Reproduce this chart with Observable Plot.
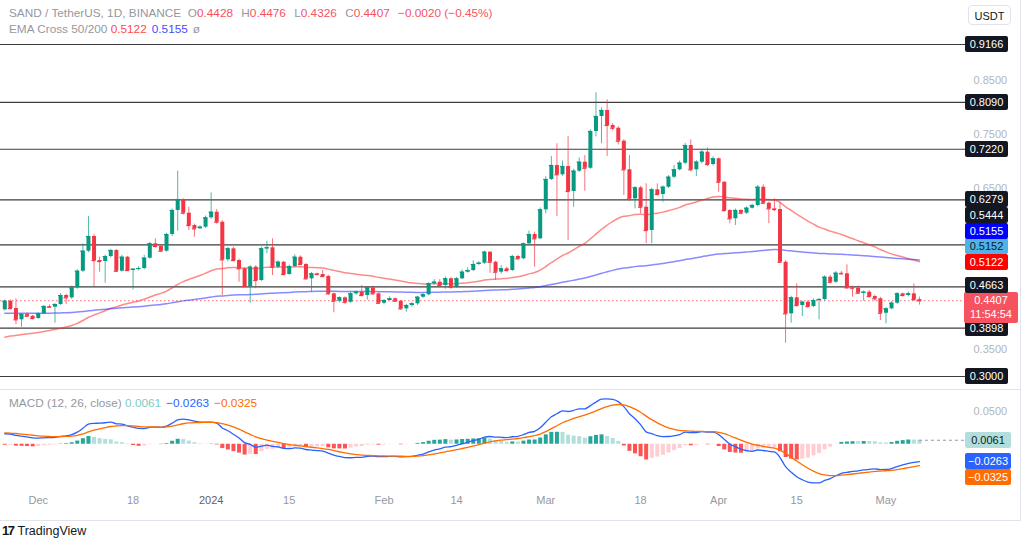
<!DOCTYPE html>
<html><head><meta charset="utf-8">
<script src="https://cdn.jsdelivr.net/npm/d3@7"></script>
<script src="https://cdn.jsdelivr.net/npm/@observablehq/plot@0.6"></script>
<style>
body{margin:0;background:#fff;font-family:"Liberation Sans",Arial,sans-serif;}
#wrap{position:relative;width:1024px;height:540px;overflow:hidden;background:#fff;}
.abs{position:absolute;}
.lg{position:absolute;left:9px;font-size:11.8px;color:#9598a1;white-space:nowrap;}
.lg span{margin-right:5px;}
.box{position:absolute;left:965px;width:43px;height:16px;line-height:16px;font-size:11px;text-align:center;color:#fff;background:#131722;border-radius:2px;}
.sep{position:absolute;background:#e0e3eb;}
</style></head>
<body><div id="wrap"></div>
<script>
// ---------- data ----------
const startDate = "2023-11-25";
const firstOpen = 0.4238;
const closes = [
0.4398,0.4262,0.4053,0.4151,0.4119,0.4077,0.4164,0.4300,0.4287,0.4337,
0.4504,0.4461,0.4647,0.4955,0.5327,0.5600,0.5154,0.5135,0.5228,0.5340,
0.4955,0.5215,0.4968,0.4992,0.5005,0.5197,0.5464,0.5414,0.5327,0.5637,
0.6083,0.6287,0.6033,0.5804,0.5743,0.5773,0.5947,0.6051,0.5865,0.5167,
0.5371,0.5154,0.5000,0.4671,0.5030,0.4783,0.5371,0.5390,0.5030,0.5122,
0.4894,0.5043,0.5215,0.5080,0.4814,0.4907,0.4894,0.4857,0.4535,0.4398,
0.4461,0.4379,0.4535,0.4565,0.4504,0.4647,0.4535,0.4361,0.4411,0.4443,
0.4398,0.4257,0.4318,0.4350,0.4472,0.4517,0.4721,0.4751,0.4690,0.4814,
0.4658,0.4814,0.4937,0.4968,0.5080,0.5104,0.5308,0.5122,0.4937,0.5000,
0.4968,0.5228,0.5186,0.5464,0.5637,0.5557,0.6096,0.6659,0.6919,0.6746,
0.6900,0.6436,0.6813,0.6980,0.6868,0.7550,0.7829,0.7940,0.7662,0.7611,
0.7370,0.6839,0.6300,0.6504,0.6144,0.5711,0.6467,0.6380,0.6515,0.6701,
0.6839,0.6961,0.7290,0.6839,0.6980,0.7166,0.6937,0.7043,0.6608,0.6083,
0.5929,0.6083,0.6033,0.6125,0.6176,0.6515,0.6218,0.6114,0.6101,0.5122,
0.4164,0.4461,0.4318,0.4379,0.4300,0.4411,0.4430,0.4844,0.4751,0.4918,
0.4907,0.4647,0.4640,0.4547,0.4565,0.4485,0.4443,0.4175,0.4257,0.4361,
0.4535,0.4504,0.4535,0.4428,0.4407];
const highs = [
0.4420,0.4420,0.4443,0.4170,0.4180,0.4135,0.4180,0.4320,0.4330,0.4350,
0.4540,0.4530,0.4680,0.4980,0.5464,0.5972,0.5640,0.5215,0.5250,0.5360,
0.5360,0.5250,0.5230,0.5000,0.5040,0.5250,0.5490,0.5557,0.5440,0.5660,
0.6110,0.6813,0.6300,0.6144,0.5830,0.5800,0.5980,0.6412,0.6100,0.5900,
0.5400,0.5400,0.5180,0.5020,0.5060,0.5060,0.5400,0.5513,0.5557,0.5150,
0.5140,0.5070,0.5260,0.5240,0.5100,0.4930,0.4920,0.4968,0.4880,0.4550,
0.4480,0.4480,0.4560,0.4590,0.4690,0.4670,0.4680,0.4550,0.4430,0.4480,
0.4460,0.4410,0.4340,0.4370,0.4490,0.4540,0.4740,0.4800,0.4800,0.4850,
0.4840,0.4840,0.4980,0.5020,0.5150,0.5130,0.5330,0.5320,0.5140,0.5060,
0.5030,0.5250,0.5250,0.5480,0.5700,0.5680,0.6130,0.6710,0.7086,0.7322,
0.7000,0.7457,0.6850,0.7060,0.7104,0.7580,0.8269,0.7990,0.8139,0.7700,
0.7640,0.7400,0.7104,0.6530,0.6530,0.6579,0.6500,0.6579,0.6540,0.6730,
0.6919,0.7000,0.7330,0.7396,0.7010,0.7200,0.7248,0.7080,0.7060,0.6620,
0.6100,0.6110,0.6100,0.6150,0.6200,0.6547,0.6560,0.6240,0.6300,0.6237,
0.5150,0.4490,0.4721,0.4400,0.4410,0.4440,0.4450,0.4870,0.4880,0.4950,
0.4950,0.5074,0.4680,0.4680,0.4590,0.4600,0.4510,0.4470,0.4280,0.4390,
0.4560,0.4550,0.4570,0.4721,0.4476];
const lows = [
0.4215,0.4240,0.3965,0.3915,0.4100,0.4050,0.4060,0.4150,0.4270,0.3990,
0.4320,0.4337,0.4430,0.4620,0.4930,0.5300,0.4671,0.4937,0.4733,0.5200,
0.4930,0.4940,0.4950,0.4610,0.4960,0.4980,0.5180,0.5390,0.5310,0.5310,
0.5600,0.5700,0.6000,0.5711,0.5587,0.5730,0.5750,0.5920,0.5830,0.4504,
0.5130,0.5130,0.4751,0.4650,0.4361,0.4629,0.4760,0.5280,0.4875,0.5000,
0.4870,0.4880,0.5020,0.5060,0.4790,0.4565,0.4870,0.4840,0.4510,0.4183,
0.4370,0.4340,0.4360,0.4510,0.4480,0.4420,0.4510,0.4340,0.4330,0.4400,
0.4380,0.4230,0.4194,0.4290,0.4320,0.4450,0.4500,0.4700,0.4670,0.4620,
0.4620,0.4640,0.4800,0.4920,0.4950,0.5060,0.5080,0.4918,0.4783,0.4900,
0.4940,0.4950,0.5160,0.5170,0.5440,0.5030,0.5540,0.6020,0.6640,0.5971,
0.6720,0.5526,0.6144,0.6790,0.6441,0.6850,0.7450,0.7322,0.7086,0.7560,
0.7300,0.6362,0.6250,0.6114,0.6022,0.5464,0.5464,0.6350,0.6237,0.6490,
0.6680,0.6820,0.6930,0.6800,0.6714,0.6950,0.6900,0.6910,0.6423,0.6050,
0.5836,0.5804,0.6000,0.6010,0.6110,0.6150,0.6190,0.5836,0.6060,0.5100,
0.3618,0.3990,0.4290,0.4114,0.4270,0.4280,0.4053,0.4400,0.4720,0.4730,
0.4880,0.4620,0.4473,0.4520,0.4398,0.4460,0.4400,0.4040,0.3979,0.4240,
0.4340,0.4480,0.4480,0.4400,0.4326];
const levels = [0.9166,0.8090,0.7220,0.6279,0.5444,0.4663,0.3898,0.3000];
const axisTicks = [0.85,0.75,0.65,0.35];
const tickDates = ["2023-12-01","2023-12-18","2024-01-01","2024-01-15","2024-02-01","2024-02-14","2024-03-01","2024-03-18","2024-04-01","2024-04-15","2024-05-01"];
const tickLabels = ["Dec","18","2024","15","Feb","14","Mar","18","Apr","15","May"];
const crossDates = ["2023-12-14","2024-05-06"];
const crossValues = [0.4287,0.5152];
// indicator seeds read at the first visible candle
const ema50Seed = 0.373, ema200Seed = 0.4176;
const ema12Seed = 0.416, ema26Seed = 0.400, signalSeed = 0.0175;
// last values shown in legends / scale labels
const lastPrice = 0.4407, ema50Last = 0.5122, ema200Last = 0.5155, crossLast = 0.5152;
const macdLast = -0.0263, signalLast = -0.0325, histLast = 0.0061;
const macdTicks = [0.05];

// ---------- build ----------
const DAY = 864e5;
const t0 = new Date(startDate + "T00:00Z");
const ema = (vals, n, seed) => { const k = 2/(n+1); let e = seed; return vals.map((v,i)=> (e = i===0 ? seed : e + k*(v-e))); };
const e50 = ema(closes,50,ema50Seed), e200 = ema(closes,200,ema200Seed);
const e12 = ema(closes,12,ema12Seed), e26 = ema(closes,26,ema26Seed);
const macd = e12.map((v,i)=>v-e26[i]);
const sig = ema(macd,9,signalSeed);
const data = closes.map((c,i)=>{
  const h = macd[i]-sig[i];
  return {date:new Date(+t0+i*DAY), open: i? closes[i-1] : firstOpen, close:c, high:highs[i], low:lows[i],
    ema50:e50[i], ema200:e200[i], macd:macd[i], signal:sig[i], hist:h};
});
data.forEach((d,i)=>{ const p = i? data[i-1].hist : d.hist;
  d.hcol = d.hist>=0 ? (d.hist>=p ? "#26a69a" : "#b2dfdb") : (d.hist<=p ? "#ff5252" : "#ffcdd2"); });
const crosses = crossDates.map((d,i)=>({date:new Date(d+"T00:00Z"), value:crossValues[i]}));
const ticks = tickDates.map((d,i)=>({date:new Date(d+"T00:00Z"), label:tickLabels[i]}));

const UP = "#089981", DOWN = "#f23645";
const col = d => d.close >= d.open ? UP : DOWN;
const xDomain = [new Date("2023-11-24T05:30Z"), new Date("2024-05-15T06:13Z")];
const font = {fontFamily:"Liberation Sans, Arial, sans-serif", fontSize:"11px", background:"transparent", overflow:"visible"};

const price = Plot.plot({
  width:1024, height:390, marginLeft:0, marginRight:59, marginTop:0, marginBottom:0,
  style:font,
  x:{type:"utc", domain:xDomain, axis:null},
  y:{domain:[0.2740,0.9983], axis:null},
  marks:[
    Plot.ruleY(levels,{stroke:"#3c3c3c", strokeWidth:1.2}),
    Plot.ruleY([lastPrice],{stroke:"#f23645", strokeOpacity:0.75, strokeDasharray:"1.5,2.5"}),
    Plot.line(data,{x:"date", y:"ema50", stroke:"#ff2a2a", strokeOpacity:0.55, strokeWidth:1.5, curve:"monotone-x"}),
    Plot.line(data,{x:"date", y:"ema200", stroke:"#2a2aff", strokeOpacity:0.55, strokeWidth:1.5, curve:"monotone-x"}),
    Plot.ruleX(data,{x:"date", y1:"low", y2:"high", stroke:col, strokeWidth:1, strokeOpacity:0.7}),
    Plot.ruleX(data,{x:"date", y1:"open", y2:"close", stroke:col, strokeWidth:4}),
    Plot.ruleY(data,{y:"close", x1:d=>new Date(+d.date-0.37*DAY), x2:d=>new Date(+d.date+0.37*DAY), stroke:col, strokeWidth:1.2}),
    Plot.dot(crosses,{x:"date", y:"value", symbol:"plus", r:5, fill:"#5db4ec", stroke:null}),
    Plot.axisY(axisTicks,{anchor:"right", tickSize:0, tickPadding:8, tickFormat:d3.format(".4f"), fill:"#b2b5be", fontSize:11})
  ]
});

const lastDate = data[data.length-1].date;
const macdPlot = Plot.plot({
  width:1024, height:130, marginLeft:0, marginRight:59, marginTop:0, marginBottom:30,
  style:font,
  x:{type:"utc", domain:xDomain, axis:null},
  y:{domain:[-0.07061,0.08206], axis:null},
  marks:[
    Plot.ruleX(data,{x:"date", y1:0, y2:"hist", stroke:"hcol", strokeWidth:4}),
    Plot.ruleY([histLast],{x1:lastDate, x2:xDomain[1], stroke:"#9598a1", strokeDasharray:"3,3", strokeWidth:1}),
    Plot.line(data,{x:"date", y:"macd", stroke:"#2962ff", strokeWidth:1.3, curve:"monotone-x"}),
    Plot.line(data,{x:"date", y:"signal", stroke:"#ff6d00", strokeWidth:1.3, curve:"monotone-x"}),
    Plot.axisY(macdTicks,{anchor:"right", tickSize:0, tickPadding:8, tickFormat:d3.format(".4f"), fill:"#b2b5be", fontSize:11}),
    Plot.text(ticks,{x:"date", text:"label", frameAnchor:"bottom", dy:13, fontSize:11,
      fill:d=>d.label==="2024" ? "#5d606b" : "#9598a1", fontWeight:d=>d.label==="2024" ? "bold" : "normal"})
  ]
});

const wrap = document.getElementById("wrap");
price.style.position = "absolute"; price.style.left = "0px"; price.style.top = "0px";
macdPlot.style.position = "absolute"; macdPlot.style.left = "0px"; macdPlot.style.top = "390px";
wrap.appendChild(price); wrap.appendChild(macdPlot);

function scaleFn(plot){ const s = plot.scale("y"); return s.apply ? (v=>s.apply(v)) : d3.scaleLinear(s.domain, s.range); }
const py = scaleFn(price), my = scaleFn(macdPlot);
const fmt = d3.format(".4f");
const mfmt = v => fmt(v).replace("-", "\u2212");

// price scale labels stacked upward like the platform does
const pl = levels.map(v=>({v, bg:"#131722", fg:"#fff"}))
  .concat([{v:ema200Last,bg:"#0000ff",fg:"#fff"},{v:crossLast,bg:"#4fb3e8",fg:"#131722"},{v:ema50Last,bg:"#ff0000",fg:"#fff"},
           {v:lastPrice,bg:"#f7525f",fg:"#fff",big:true}]);
pl.forEach(o=>o.y = py(o.v));
pl.sort((a,b)=> b.y - a.y || a.v - b.v);
let prev = Infinity;
pl.forEach(o=>{ o.py = Math.min(o.y, prev - 15.5); prev = o.py; });
pl.forEach(o=>{
  const d = document.createElement("div"); d.className = "box";
  d.style.background = o.bg; d.style.color = o.fg;
  if (o.big){ d.style.left="964px"; d.style.width="54px"; d.style.height="31px"; d.style.top=(o.py-8)+"px";
    d.style.lineHeight="14px"; d.style.paddingTop="1px"; d.style.boxSizing="border-box";
    d.innerHTML = fmt(o.v) + "<br>11:54:54"; }
  else { d.style.top = (o.py-8)+"px"; d.textContent = fmt(o.v); }
  wrap.appendChild(d);
});
// MACD labels stacked downward
const ml = [{v:histLast,bg:"#b2dfdb",fg:"#131722"},{v:macdLast,bg:"#2962ff",fg:"#fff"},{v:signalLast,bg:"#ff6d00",fg:"#fff"}];
ml.forEach(o=>o.y = 390 + my(o.v));
ml.sort((a,b)=>a.y-b.y);
prev = -Infinity;
ml.forEach(o=>{ o.py = Math.max(o.y, prev + 16); prev = o.py;
  const d = document.createElement("div"); d.className="box"; d.style.background=o.bg; d.style.color=o.fg;
  d.style.width="46px"; d.style.top=(o.py-8)+"px"; d.textContent = mfmt(o.v); wrap.appendChild(d); });

// legends
const html = (t)=>{ const d=document.createElement("div"); d.innerHTML=t; return d.firstChild; };
wrap.appendChild(html(`<div class="lg" style="top:6px">SAND / TetherUS, 1D, BINANCE&nbsp;&nbsp;O<span style="color:#f7525f">0.4428</span> H<span style="color:#f7525f">0.4476</span> L<span style="color:#f7525f">0.4326</span> C<span style="color:#f7525f">0.4407</span> <span style="color:#f7525f">\u22120.0020 (\u22120.45%)</span></div>`));
wrap.appendChild(html(`<div class="lg" style="top:22px">EMA Cross 50/200 <span style="color:#ff4a4a">${fmt(ema50Last)}</span><span style="color:#4a4aff">${fmt(ema200Last)}</span><span>\u00f8</span></div>`));
wrap.appendChild(html(`<div class="lg" style="top:396px">MACD (12, 26, close) <span style="color:#80cbc4">${fmt(histLast)}</span><span style="color:#2962ff">${mfmt(macdLast)}</span><span style="color:#ff6d00">${mfmt(signalLast)}</span></div>`));
wrap.appendChild(html(`<div class="abs" style="left:968px;top:5px;width:43px;height:20px;border:1px solid #e0e3eb;border-radius:4px;font-size:11px;line-height:20px;text-align:center;color:#131722;box-sizing:border-box">USDT</div>`));
// pane separators / borders
wrap.appendChild(html(`<div class="sep" style="left:0;top:389px;width:1020px;height:1px"></div>`));
wrap.appendChild(html(`<div class="sep" style="left:0;top:520px;width:1021px;height:1px"></div>`));
wrap.appendChild(html(`<div class="sep" style="left:1020px;top:0;width:1px;height:521px"></div>`));
// footer
wrap.appendChild(html(`<div class="abs" style="left:2px;top:523px;font-size:12.5px;color:#131722;white-space:nowrap"><b style="font-weight:900;letter-spacing:-1.5px;margin-right:4px;font-size:13px">17</b>TradingView</div>`));
</script>
</body></html>
